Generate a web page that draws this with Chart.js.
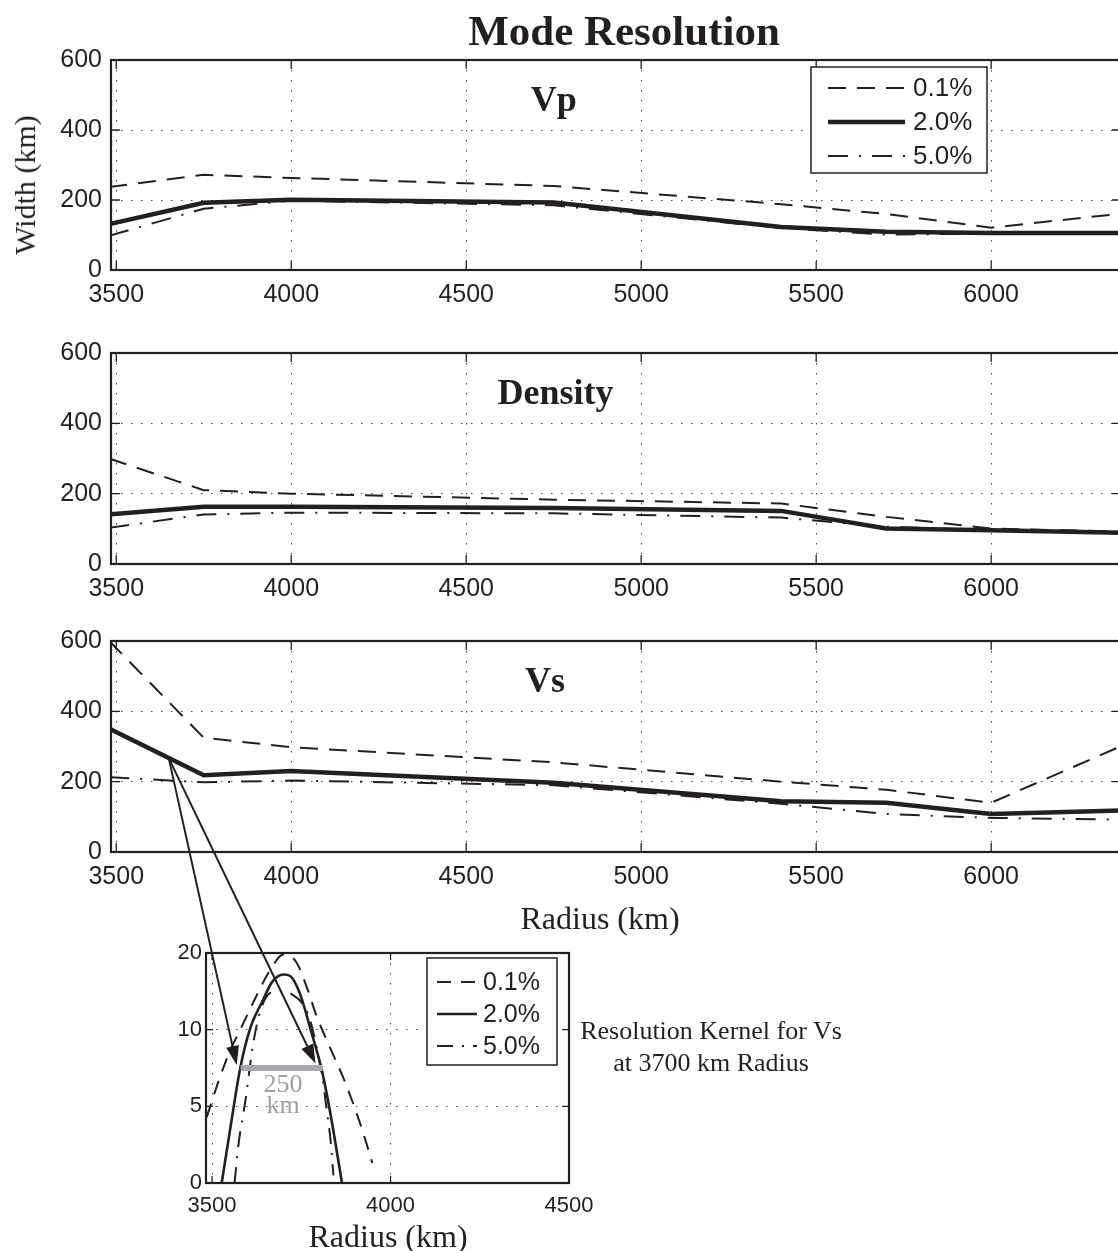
<!DOCTYPE html>
<html>
<head>
<meta charset="utf-8">
<script src="https://cdn.jsdelivr.net/npm/chart.js@4.4.1/dist/chart.umd.min.js"></script>
<style>
  html, body { margin: 0; padding: 0; background: #fff; }
  #page { position: relative; width: 1118px; height: 1251px; overflow: hidden; background: #fff; }
  canvas { position: absolute; }
  .txt { position: absolute; font-family: "Liberation Serif", "Times New Roman", serif; color: #231f20;
         white-space: nowrap; transform: translate(-50%, -50%); line-height: 1; }
</style>
</head>
<body>
<div id="page">
  <canvas id="vp" width="1130" height="310" style="left:0;top:0"></canvas>
  <canvas id="rho" width="1130" height="304" style="left:0;top:300px"></canvas>
  <canvas id="vs" width="1130" height="302" style="left:0;top:590px"></canvas>
  <canvas id="kern" width="480" height="300" style="left:150px;top:930px"></canvas>
  <canvas id="arrows" width="1118" height="1251" style="left:0;top:0"></canvas>

  <div class="txt" style="left:624px;top:30px;font-size:43px;font-weight:bold">Mode Resolution</div>
  <div class="txt" style="left:25px;top:185px;font-size:30px;transform:translate(-50%,-50%) rotate(-90deg)">Width (km)</div>
  <div class="txt" style="left:600px;top:918px;font-size:32px">Radius (km)</div>
  <div class="txt" style="left:388px;top:1236px;font-size:32px">Radius (km)</div>
  <div class="txt" style="left:711px;top:1031px;font-size:26px">Resolution Kernel for Vs</div>
  <div class="txt" style="left:711px;top:1063px;font-size:26px">at 3700 km Radius</div>
</div>

<script>
// radius nodes (km) and resolution widths (km) for the three damping levels
const radius = [3480, 3750, 4000, 4750, 5400, 5700, 6000, 6371];
const vp01  = [237, 272, 263, 240, 188, 160, 121, 161];
const vp20  = [131, 192, 201, 193, 123, 109, 106, 106];
const vp50  = [98, 175, 198, 185, 120, 101, 104, 106];
const rho01 = [300, 210, 200, 183, 172, 134, 101, 92];
const rho20 = [141, 163, 163, 159, 151, 101, 96, 89];
const rho50 = [103, 141, 146, 144, 132, 106, 96, 92];
const vs01  = [600, 325, 298, 255, 200, 177, 140, 301];
const vs20  = [351, 218, 230, 197, 144, 140, 108, 118];
const vs50  = [213, 198, 203, 190, 137, 108, 97, 92];

const labels = ['0.1%', '2.0%', '5.0%'];
const xTicks = [3500, 4000, 4500, 5000, 5500, 6000];
const yTicks = [0, 200, 400, 600];

// resolution kernel for Vs at 3700 km (inset)
const kernR01 = [3485, 3522, 3550, 3579, 3620, 3663, 3700, 3736, 3768, 3791, 3831, 3867, 3895, 3923, 3949];
const kern01  = [4.3, 6.9, 8.6, 10.0, 12.0, 13.9, 14.9, 14.4, 12.6, 11.0, 8.8, 6.9, 5.2, 3.3, 1.3];
const kernR20 = [3527, 3550, 3579, 3607, 3640, 3668, 3700, 3719, 3747, 3775, 3808, 3831, 3864];
const kern20  = [0, 3.4, 7.5, 10.1, 11.8, 13.1, 13.6, 13.5, 12.3, 10.1, 7.3, 4.6, 0];
const kernR50 = [3563, 3574, 3593, 3616, 3635, 3654, 3680, 3705, 3730, 3750, 3775, 3795, 3809, 3822, 3831, 3840];
const kern50  = [0, 2.5, 5.3, 9.2, 11.2, 12.2, 12.5, 12.5, 12.2, 11.8, 10.6, 8.6, 6.9, 4.6, 3.0, 0.5];
const kernXTicks = [3500, 4000, 4500];
const kernYTicks = [0, 5, 10, 15];
const kernYLabels = ['0', '5', '10', '20'];
const barR = [3580, 3810];
const barV = [7.5, 7.5];
// where the arrows start (Vs panel) and end (inset)
const arrowFrom = [3650, 267];
const arrowTo = [[3569, 7.7], [3790, 7.8]];

const ink = '#231f20';
const sans = '"Liberation Sans", Arial, sans-serif';
const serif = '"Liberation Serif", "Times New Roman", serif';
const styles = [
  { borderDash: [18, 11], borderWidth: 2 },
  { borderDash: [], borderWidth: 4.5 },
  { borderDash: [20, 11, 2, 11], borderWidth: 2 }
];

function pts(xs, ys) { return xs.map((x, i) => ({ x: x, y: ys[i] })); }

// black box round the plot with small ticks pointing inward (matlab look)
const frame = {
  id: 'frame',
  afterDraw(chart) {
    const ctx = chart.ctx, a = chart.chartArea, sx = chart.scales.x, sy = chart.scales.y;
    const len = chart.options.plugins.frame.tick;
    ctx.save();
    ctx.strokeStyle = ink;
    ctx.lineWidth = 1.3;
    ctx.beginPath();
    sx.ticks.forEach(t => {
      const px = sx.getPixelForValue(t.value);
      ctx.moveTo(px, a.bottom); ctx.lineTo(px, a.bottom - len);
      ctx.moveTo(px, a.top); ctx.lineTo(px, a.top + len);
    });
    sy.ticks.forEach(t => {
      const py = sy.getPixelForValue(t.value);
      ctx.moveTo(a.left, py); ctx.lineTo(a.left + len, py);
      ctx.moveTo(a.right, py); ctx.lineTo(a.right - len, py);
    });
    ctx.stroke();
    ctx.lineWidth = 2.2;
    ctx.strokeRect(a.left, a.top, a.right - a.left, a.bottom - a.top);
    ctx.restore();
  }
};

// boxed legend drawn inside the plot area
const boxLegend = {
  id: 'boxLegend',
  afterDraw(chart) {
    const o = chart.options.plugins.boxLegend;
    if (!o || !o.show) return;
    const ctx = chart.ctx, a = chart.chartArea;
    const x0 = a.left + o.x, y0 = a.top + o.y;
    ctx.save();
    ctx.fillStyle = '#fff';
    ctx.fillRect(x0, y0, o.w, o.h);
    ctx.lineWidth = 1.5;
    ctx.strokeStyle = ink;
    ctx.strokeRect(x0, y0, o.w, o.h);
    ctx.font = o.font;
    ctx.textBaseline = 'middle';
    let row = 0;
    chart.data.datasets.forEach(ds => {
      if (!ds.label) return;
      const y = y0 + o.first + row * o.row;
      ctx.beginPath();
      ctx.setLineDash(ds.borderDash || []);
      ctx.lineWidth = ds.borderWidth;
      ctx.strokeStyle = ink;
      ctx.moveTo(x0 + o.pad, y);
      ctx.lineTo(x0 + o.pad + o.sample, y);
      ctx.stroke();
      ctx.setLineDash([]);
      ctx.fillStyle = ink;
      ctx.fillText(ds.label, x0 + o.pad + o.sample + o.gap, y + 1);
      row++;
    });
    ctx.restore();
  }
};

// text placed at data coordinates
const dataText = {
  id: 'dataText',
  afterDatasetsDraw(chart) {
    const items = chart.options.plugins.dataText.items || [];
    const ctx = chart.ctx;
    ctx.save();
    ctx.textAlign = 'center';
    ctx.textBaseline = 'middle';
    items.forEach(it => {
      ctx.font = it.font;
      ctx.fillStyle = it.color || ink;
      ctx.fillText(it.text, chart.scales.x.getPixelForValue(it.x), chart.scales.y.getPixelForValue(it.y));
    });
    ctx.restore();
  }
};

function panel(id, a, b, c, name, nameX, legend) {
  const sets = [a, b, c].map((vals, i) => Object.assign({
    label: labels[i],
    data: pts(radius, vals),
    borderColor: ink,
    pointRadius: 0,
    tension: 0,
    fill: false
  }, styles[i]));
  return new Chart(document.getElementById(id), {
    type: 'line',
    data: { datasets: sets },
    options: {
      responsive: false,
      animation: false,
      events: [],
      layout: { padding: { left: 0, right: 9, top: id === 'vp' ? 60 : (id === 'rho' ? 53 : 51), bottom: 0 } },
      scales: {
        x: {
          type: 'linear', min: 3485, max: 6371,
          afterBuildTicks: s => { s.ticks = xTicks.map(v => ({ value: v })); },
          afterFit: s => { s.height = 40; },
          border: { display: false, dash: [1.5, 8.5] },
          grid: { drawTicks: false, color: '#444', lineWidth: 1 },
          ticks: { color: ink, font: { family: sans, size: 25 }, padding: 10, maxRotation: 0,
                   callback: v => String(v) }
        },
        y: {
          min: 0, max: 600,
          afterBuildTicks: s => { s.ticks = yTicks.map(v => ({ value: v })); },
          afterFit: s => { s.width = 111; },
          border: { display: false, dash: [1.5, 8.5] },
          grid: { drawTicks: false, color: '#444', lineWidth: 1 },
          ticks: { color: ink, font: { family: sans, size: 25 }, padding: 9, callback: v => String(v) }
        }
      },
      plugins: {
        legend: { display: false },
        tooltip: { enabled: false },
        frame: { tick: 9 },
        boxLegend: legend,
        dataText: { items: [{ text: name, x: nameX, y: 482, font: 'bold 36px ' + serif }] }
      }
    },
    plugins: [frame, dataText, boxLegend]
  });
}

const mainLegend = { show: true, x: 700, y: 7, w: 176, h: 106, first: 21, row: 34, pad: 17, sample: 77, gap: 8,
                     font: '26px ' + sans };

const cVp = panel('vp', vp01, vp20, vp50, 'Vp', 4750, mainLegend);
const cRho = panel('rho', rho01, rho20, rho50, 'Density', 4755, { show: false });
const cVs = panel('vs', vs01, vs20, vs50, 'Vs', 4725, { show: false });

const kernSets = [[kernR01, kern01], [kernR20, kern20], [kernR50, kern50]].map((p, i) => Object.assign({
  label: labels[i],
  data: pts(p[0], p[1]),
  borderColor: ink,
  pointRadius: 0,
  cubicInterpolationMode: 'monotone',
  fill: false
}, styles[i], { borderWidth: i === 1 ? 2.6 : 2, borderDash: i === 0 ? [14, 10] : (i === 2 ? [16, 9, 2, 9] : []) }));
kernSets.unshift({
  label: '',
  data: pts(barR, barV),
  borderColor: '#a7a9ac',
  borderWidth: 6,
  pointRadius: 0,
  fill: false
});

const cKern = new Chart(document.getElementById('kern'), {
  type: 'line',
  data: { datasets: kernSets },
  options: {
    responsive: false,
    animation: false,
    events: [],
    layout: { padding: { left: 0, right: 61, top: 23, bottom: 0 } },
    scales: {
      x: {
        type: 'linear', min: 3483, max: 4500,
        afterBuildTicks: s => { s.ticks = kernXTicks.map(v => ({ value: v })); },
        afterFit: s => { s.height = 47; },
        border: { display: false, dash: [1.5, 8.5] },
        grid: { drawTicks: false, color: '#444', lineWidth: 1 },
        ticks: { color: ink, font: { family: sans, size: 22 }, padding: 10, maxRotation: 0, callback: v => String(v) }
      },
      y: {
        min: 0, max: 15,
        afterBuildTicks: s => { s.ticks = kernYTicks.map(v => ({ value: v })); },
        afterFit: s => { s.width = 56; },
        border: { display: false, dash: [1.5, 8.5] },
        grid: { drawTicks: false, color: '#444', lineWidth: 1 },
        ticks: { color: ink, font: { family: sans, size: 22 }, padding: 4,
                 callback: (v, i) => kernYLabels[i] }
      }
    },
    plugins: {
      legend: { display: false },
      tooltip: { enabled: false },
      frame: { tick: 7 },
      boxLegend: { show: true, x: 221, y: 5, w: 130, h: 107, first: 24, row: 32, pad: 10, sample: 40, gap: 6,
                   font: '25px ' + sans },
      dataText: { items: [
        { text: '250', x: 3699, y: 6.4, font: '26px ' + serif, color: '#a0a0a0' },
        { text: 'km', x: 3699, y: 5.0, font: '26px ' + serif, color: '#a0a0a0' }
      ] }
    }
  },
  plugins: [frame, dataText, boxLegend]
});

// arrows from the Vs curve down to the kernel plot
(function drawArrows() {
  const ctx = document.getElementById('arrows').getContext('2d');
  const sx = cVs.scales.x.getPixelForValue(arrowFrom[0]) + 0;
  const sy = cVs.scales.y.getPixelForValue(arrowFrom[1]) + 590;
  ctx.strokeStyle = ink;
  ctx.fillStyle = ink;
  ctx.lineWidth = 2;
  arrowTo.forEach(t => {
    const ex = cKern.scales.x.getPixelForValue(t[0]) + 150;
    const ey = cKern.scales.y.getPixelForValue(t[1]) + 930;
    const ang = Math.atan2(ey - sy, ex - sx);
    const L = 19, W = 6.5;
    const bx = ex - L * Math.cos(ang), by = ey - L * Math.sin(ang);
    ctx.beginPath();
    ctx.moveTo(sx, sy);
    ctx.lineTo(bx, by);
    ctx.stroke();
    ctx.beginPath();
    ctx.moveTo(ex, ey);
    ctx.lineTo(bx + W * Math.sin(ang), by - W * Math.cos(ang));
    ctx.lineTo(bx - W * Math.sin(ang), by + W * Math.cos(ang));
    ctx.closePath();
    ctx.fill();
  });
})();
</script>
</body>
</html>
